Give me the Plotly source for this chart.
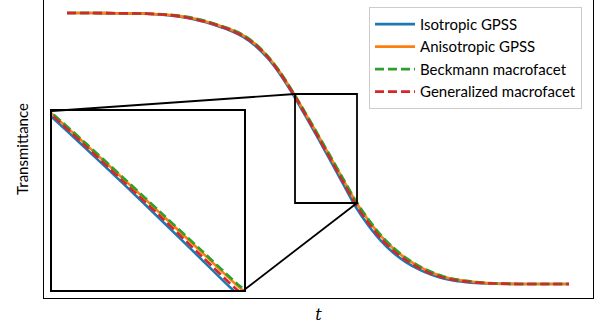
import plotly.graph_objects as go

# ---- data ----
t = [0, 0.05, 0.10, 0.15, 0.175, 0.20, 0.225, 0.25, 0.275, 0.30, 0.325, 0.35, 0.375,
     0.40, 0.425, 0.45, 0.475, 0.50, 0.525, 0.55, 0.575, 0.60, 0.625, 0.65, 0.675,
     0.70, 0.725, 0.75, 0.775, 0.80, 0.825, 0.85, 0.90, 0.95, 1.0]

isotropic_gpss = [1.000, 1.000, 0.999, 0.998, 0.9955, 0.992, 0.9865, 0.978, 0.9665, 0.952,
                  0.9355, 0.913, 0.8795, 0.833, 0.7725, 0.700, 0.620, 0.538, 0.454, 0.369,
                  0.285, 0.217, 0.160, 0.115, 0.081, 0.055, 0.0345, 0.020, 0.011, 0.006,
                  0.0025, 0.001, 0, 0, 0]
anisotropic_gpss = [1.000, 1.000, 0.999, 0.998, 0.996, 0.9935, 0.9885, 0.981, 0.970, 0.956,
                    0.940, 0.9185, 0.8855, 0.8395, 0.7795, 0.7075, 0.629, 0.549, 0.4675, 0.3855,
                    0.304, 0.236, 0.1775, 0.131, 0.0945, 0.066, 0.0435, 0.027, 0.0165, 0.010,
                    0.005, 0.002, 0, 0, 0]
beckmann_macrofacet = [1.000, 1.000, 0.999, 0.998, 0.9965, 0.994, 0.9895, 0.982, 0.971, 0.957,
                       0.9415, 0.920, 0.887, 0.841, 0.781, 0.709, 0.6315, 0.5515, 0.4705, 0.389,
                       0.308, 0.240, 0.181, 0.134, 0.097, 0.068, 0.045, 0.028, 0.017, 0.0105,
                       0.0055, 0.0025, 0, 0, 0]
generalized_macrofacet = [1.000, 1.000, 0.999, 0.998, 0.996, 0.9925, 0.9875, 0.979, 0.968, 0.954,
                          0.938, 0.9155, 0.8825, 0.8365, 0.7765, 0.7045, 0.625, 0.543, 0.4605, 0.3765,
                          0.294, 0.226, 0.1685, 0.123, 0.0875, 0.060, 0.0385, 0.023, 0.0135, 0.008,
                          0.004, 0.002, 0, 0, 0]

series_names = ["Isotropic GPSS", "Anisotropic GPSS", "Beckmann macrofacet", "Generalized macrofacet"]
series_values = [isotropic_gpss, anisotropic_gpss, beckmann_macrofacet, generalized_macrofacet]
colors = ["#1f77b4", "#ff7f0e", "#2ca02c", "#d62728"]
dashes = ["solid", "solid", "9px,4px", "9px,4px"]

# zoom window (data coords) and inset placement
zoom_x = (0.4542, 0.5777)
zoom_y = (0.2989, 0.7011)
main_x = (-0.0458, 1.0478)
main_y = (-0.0517, 1.048)
inset_dom_x = (0.0146, 0.3643)
inset_dom_y = (0.0268, 0.6275)

FONT = "Lato"

fig = go.Figure()
for name, vals, c, d in zip(series_names, series_values, colors, dashes):
    fig.add_trace(go.Scatter(x=t, y=vals, mode="lines", name=name, legendgroup=name,
                             line=dict(color=c, width=2.6, dash=d, shape="spline", smoothing=0.8),
                             xaxis="x", yaxis="y"))
for name, vals, c, d in zip(series_names, series_values, colors, dashes):
    fig.add_trace(go.Scatter(x=t, y=vals, mode="lines", name=name, showlegend=False,
                             line=dict(color=c, width=2.6, dash=d, shape="spline", smoothing=0.8),
                             xaxis="x2", yaxis="y2"))

def px(d):
    return main_x[0] + d * (main_x[1] - main_x[0])

def py(d):
    return main_y[0] + d * (main_y[1] - main_y[0])

shapes = [
    dict(type="rect", xref="x", yref="y", x0=zoom_x[0], x1=zoom_x[1], y0=zoom_y[0], y1=zoom_y[1],
         line=dict(color="black", width=1.8)),
    dict(type="line", xref="x", yref="y", x0=px(inset_dom_x[0]), y0=py(inset_dom_y[1]),
         x1=zoom_x[0], y1=zoom_y[1], line=dict(color="black", width=1.8)),
    dict(type="line", xref="x", yref="y", x0=px(inset_dom_x[1]), y0=py(inset_dom_y[0]),
         x1=zoom_x[1], y1=zoom_y[0], line=dict(color="black", width=1.8)),
]

fig.update_layout(
    width=602, height=330,
    margin=dict(l=44, r=9, t=0, b=32),
    paper_bgcolor="white", plot_bgcolor="white",
    font=dict(family=FONT, size=15, color="black"),
    showlegend=True,
    legend=dict(x=0.592, y=0.977, xanchor="left", yanchor="top",
                bgcolor="rgba(255,255,255,0.8)", bordercolor="#cccccc", borderwidth=1,
                font=dict(family=FONT, size=15), tracegroupgap=0, itemwidth=40,
                traceorder="grouped"),
    xaxis=dict(range=list(main_x), showgrid=False, zeroline=False, showticklabels=False,
               ticks="", showline=True, linecolor="black", linewidth=1.2, mirror=False,
               title=dict(text="<i>t</i>", font=dict(family="DejaVu Serif", size=16), standoff=10)),
    yaxis=dict(range=list(main_y), showgrid=False, zeroline=False, showticklabels=False,
               ticks="", showline=True, linecolor="black", linewidth=1.2, mirror=True,
               title=dict(text="Transmittance", font=dict(family=FONT, size=15), standoff=10)),
    xaxis2=dict(domain=list(inset_dom_x), anchor="y2", range=list(zoom_x), showgrid=False,
                zeroline=False, showticklabels=False, ticks="", showline=True,
                linecolor="black", linewidth=1.8, mirror=True),
    yaxis2=dict(domain=list(inset_dom_y), anchor="x2", range=list(zoom_y), showgrid=False,
                zeroline=False, showticklabels=False, ticks="", showline=True,
                linecolor="black", linewidth=1.8, mirror=True),
    shapes=shapes,
)

fig.write_html("out.html")
